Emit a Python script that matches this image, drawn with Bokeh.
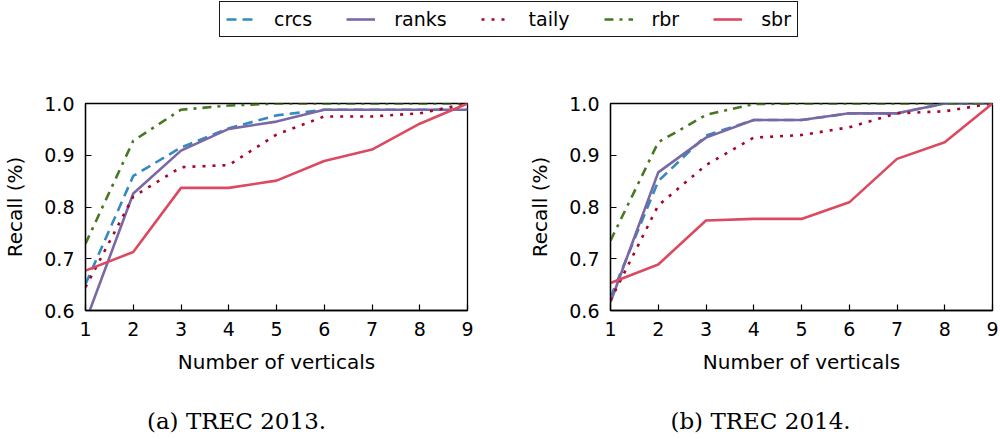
from bokeh.plotting import figure
from bokeh.layouts import column, row
from bokeh.models import (Range1d, FixedTicker, PrintfTickFormatter, Legend,
                          LegendItem, ColumnDataSource)
from bokeh.core.properties import value
from bokeh.embed import file_html
from bokeh.resources import INLINE

# ---------------- data ----------------
verticals = [1, 2, 3, 4, 5, 6, 7, 8, 9]
series_names = ["crcs", "ranks", "taily", "rbr", "sbr"]

trec2013_crcs = [0.651, 0.860, 0.915, 0.952, 0.977, 0.988, 0.988, 0.988, 0.988]
trec2013_ranks = [0.578, 0.826, 0.909, 0.951, 0.965, 0.988, 0.988, 0.988, 0.988]
trec2013_taily = [0.645, 0.820, 0.877, 0.881, 0.940, 0.975, 0.975, 0.981, 1.000]
trec2013_rbr = [0.729, 0.928, 0.988, 0.996, 1.000, 1.000, 1.000, 1.000, 1.000]
trec2013_sbr = [0.677, 0.713, 0.837, 0.837, 0.851, 0.889, 0.911, 0.961, 1.000]

trec2014_crcs = [0.625, 0.850, 0.938, 0.968, 0.968, 0.981, 0.981, 1.000, 1.000]
trec2014_ranks = [0.616, 0.867, 0.934, 0.968, 0.968, 0.981, 0.981, 1.000, 1.000]
trec2014_taily = [0.620, 0.803, 0.881, 0.934, 0.939, 0.954, 0.981, 0.985, 1.000]
trec2014_rbr = [0.735, 0.925, 0.978, 0.999, 1.000, 1.000, 1.000, 1.000, 1.000]
trec2014_sbr = [0.653, 0.689, 0.774, 0.777, 0.777, 0.809, 0.893, 0.925, 1.000]

y_ticks = [0.6, 0.7, 0.8, 0.9, 1.0]
captions = ["(a) TREC 2013.", "(b) TREC 2014."]
x_label = "Number of verticals"
y_label = "Recall (%)"

# ---------------- styles ----------------
colors = {"crcs": "#348ABD", "ranks": "#7A68A6", "taily": "#A60628",
          "rbr": "#467821", "sbr": "#DB4A5F"}
dashes = {"crcs": "10 6", "ranks": "solid", "taily": "3 7",
          "rbr": "9 6 3 6", "sbr": "solid"}
LW = 2.6
SANS = "DejaVu Sans"

data2013 = {"crcs": trec2013_crcs, "ranks": trec2013_ranks,
            "taily": trec2013_taily, "rbr": trec2013_rbr, "sbr": trec2013_sbr}
data2014 = {"crcs": trec2014_crcs, "ranks": trec2014_ranks,
            "taily": trec2014_taily, "rbr": trec2014_rbr, "sbr": trec2014_sbr}


def make_plot(data, left, right):
    p = figure(width=500, height=335, x_range=Range1d(1, 9),
               y_range=Range1d(0.6, 1.0), output_backend="svg",
               toolbar_location=None, min_border_left=left,
               min_border_right=right, min_border_top=53,
               min_border_bottom=75)
    src = ColumnDataSource(dict(x=verticals, **data))
    for name in series_names:
        p.line("x", name, source=src, line_color=colors[name],
               line_dash=dashes[name], line_width=LW)
    p.xgrid.visible = False
    p.ygrid.visible = False
    p.outline_line_color = "black"
    p.outline_line_width = 1.3
    p.xaxis.ticker = FixedTicker(ticks=verticals)
    p.yaxis.ticker = FixedTicker(ticks=y_ticks)
    p.yaxis.formatter = PrintfTickFormatter(format="%.1f")
    p.xaxis.axis_label = x_label
    p.yaxis.axis_label = y_label
    for ax in (p.xaxis[0], p.yaxis[0]):
        ax.major_tick_in = 6
        ax.major_tick_out = 0
        ax.minor_tick_line_color = None
        ax.axis_line_color = "black"
        ax.axis_line_width = 1.3
        ax.major_tick_line_color = "black"
        ax.major_tick_line_width = 1.2
        ax.major_label_text_font = SANS
        ax.major_label_text_font_size = "19px"
        ax.major_label_text_color = "black"
        ax.axis_label_text_font = SANS
        ax.axis_label_text_font_size = "20px"
        ax.axis_label_text_font_style = "normal"
        ax.axis_label_text_color = "black"
    p.xaxis.major_label_standoff = 11
    p.xaxis.axis_label_standoff = 11
    p.yaxis.major_label_standoff = 11
    p.yaxis.axis_label_standoff = 14
    return p


p1 = make_plot(data2013, 84, 33)
p2 = make_plot(data2014, 110, 8)

# ---------------- legend strip ----------------
# the legend lives in its own strip; its renderers hold real data but the
# strip's x-range is placed so that the lines themselves stay out of view
lf = figure(width=1000, height=50, x_range=Range1d(-2, -1),
            y_range=Range1d(0, 1), x_axis_type=None, y_axis_type=None,
            title=None, output_backend="svg", toolbar_location=None,
            min_border=0)
lf.outline_line_color = None
lf.xgrid.visible = False
lf.ygrid.visible = False
items = []
for name in series_names:
    r = lf.line(x=verticals, y=data2013[name], line_color=colors[name],
                line_dash=dashes[name], line_width=LW)
    items.append(LegendItem(label=name, renderers=[r]))
leg = Legend(items=items, orientation="horizontal", location=(219, 13),
             padding=6, spacing=34, glyph_width=29, label_standoff=19,
             margin=0, label_text_font=SANS, label_text_font_size="19px",
             label_text_color="black",
             border_line_color="black", border_line_width=1.2,
             border_line_alpha=0.9, background_fill_alpha=1.0)
lf.add_layout(leg)

# ---------------- captions ----------------
cap = figure(width=1000, height=54, x_range=Range1d(0, 1000),
             y_range=Range1d(0, 54), x_axis_type=None, y_axis_type=None,
             title=None, output_backend="svg", toolbar_location=None,
             min_border=0)
cap.outline_line_color = None
cap.xgrid.visible = False
cap.ygrid.visible = False
cap_src = ColumnDataSource(dict(x=[236, 760], y=[19, 19], text=captions))
cap.text(x="x", y="y", text="text", source=cap_src,
         text_font=value("DejaVu Serif"), text_font_size="23px",
         text_align="center", text_baseline="middle", text_color="black")

layout = column(lf, row(p1, p2, spacing=0), cap, spacing=0)
open("out.html", "w").write(file_html(layout, INLINE))
